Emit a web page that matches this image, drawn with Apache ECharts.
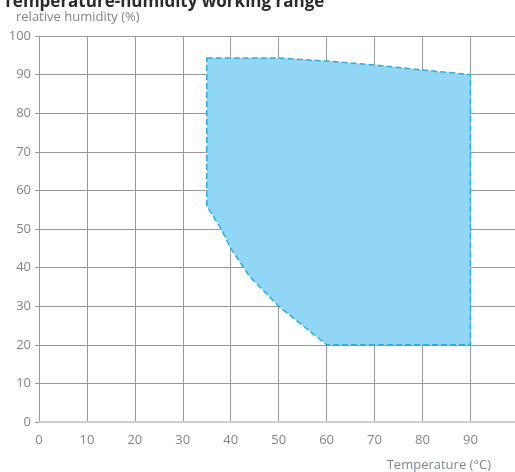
<!DOCTYPE html>
<html><head><meta charset="utf-8">
<script src="https://cdn.jsdelivr.net/npm/echarts@6/dist/echarts.min.js"></script>
<style>html,body{margin:0;padding:0;background:#fff}#c{width:515px;height:472px}</style>
</head><body><div id="c"></div>
<script>
const titleText = 'Temperature-humidity working range';
const yAxisName = 'relative humidity (%)';
const xAxisName = 'Temperature (°C)';
const xTickLabels = ['0','10','20','30','40','50','60','70','80','90'];
// polygon outline of the working range: temperature (°C), humidity (%)
const rangeTemp = [35, 50, 60, 70, 80, 90, 90, 60, 50, 44, 40, 38, 35];
const rangeHum  = [94.3, 94.3, 93.5, 92.5, 91.2, 90, 20, 20, 30, 37.6, 45, 50, 56];

const labelColor = '#7b8590';
const font = 'Open Sans';
const chart = echarts.init(document.getElementById('c'));
chart.setOption({
  animation: false,
  grid: {left: 39, right: 0, top: 36, bottom: 50, containLabel: false, outerBoundsMode: 'none'},
  xAxis: {
    type: 'value', min: 0, max: 99.3, interval: 10,
    axisLine: {show: true, lineStyle: {color: '#cfcfcf', width: 2}},
    axisTick: {show: false},
    axisLabel: {color: labelColor, fontFamily: font, fontSize: 13, margin: 12,
      formatter: v => xTickLabels.indexOf(String(v)) >= 0 ? String(v) : ''},
    splitLine: {show: true, lineStyle: {color: '#999', width: 1}}
  },
  yAxis: {
    type: 'value', min: 0, max: 100, interval: 10,
    axisLine: {show: true, lineStyle: {color: '#999', width: 1}},
    axisTick: {show: true, length: 4, lineStyle: {color: '#999'}},
    axisLabel: {color: labelColor, fontFamily: font, fontSize: 13, margin: 8},
    splitLine: {show: true, lineStyle: {color: '#999', width: 1}}
  },
  graphic: [
    {type: 'text', left: 3, top: -6, style: {text: titleText, font: 'bold 17px "Open Sans"', fill: '#2b2b2b'}},
    {type: 'text', left: 16, top: 11, style: {text: yAxisName, font: '13px "Open Sans"', fill: labelColor}},
    {type: 'text', right: 24, bottom: 0, style: {text: xAxisName, font: '13px "Open Sans"', fill: labelColor}}
  ],
  series: [{
    type: 'custom',
    data: rangeTemp.map((t, i) => [t, rangeHum[i]]),
    renderItem: function (params, api) {
      if (params.dataIndex !== 0) return;
      const pts = rangeTemp.map((t, i) => api.coord([t, rangeHum[i]]));
      return {
        type: 'polygon',
        shape: {points: pts},
        style: {fill: '#92d6f5', stroke: '#22b0e8', lineWidth: 1.5, lineDash: [6, 3]}
      };
    }
  }]
});
</script></body></html>
